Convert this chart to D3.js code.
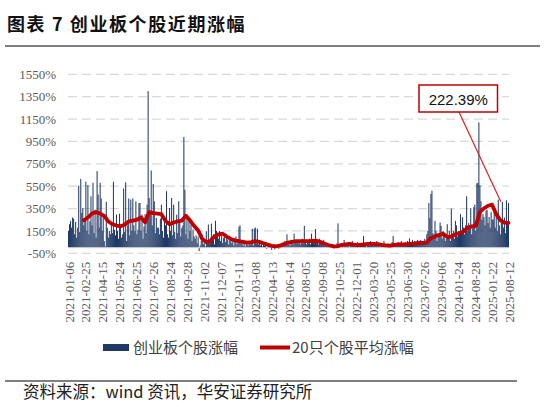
<!DOCTYPE html>
<html><head><meta charset="utf-8">
<script src="https://cdn.jsdelivr.net/npm/d3@7/dist/d3.min.js"></script>
<style>body{margin:0;background:#fff;} svg{display:block}</style>
</head><body>
<svg id="c" width="545" height="407"></svg>
<script>
// ---- data ----
const tickLabels = ["2021-01-06","2021-02-25","2021-04-15","2021-05-24","2021-06-25","2021-07-26","2021-08-24","2021-09-28","2021-11-02","2021-12-07","2022-01-11","2022-03-08","2022-04-13","2022-06-14","2022-08-05","2022-09-08","2022-10-25","2022-12-01","2023-03-20","2023-05-25","2023-06-30","2023-07-26","2023-09-06","2024-01-24","2024-08-28","2025-01-22","2025-08-12"];

const yTicks = [-50,150,350,550,750,950,1150,1350,1550];

// individual stock gains (%)
const barValues = [
150,210,240,180,270,260,120,230,90,180,555,140,615,310,355,200,
260,590,150,560,120,236,460,200,580,130,340,90,685,475,180,580,
440,150,296,60,10,410,178,90,150,120,200,130,590,160,110,296,
150,80,303,178,90,120,530,140,585,60,200,440,110,430,150,440,
200,150,415,120,160,400,399,150,296,80,190,300,130,385,1400,444,
300,690,200,570,415,130,266,180,178,120,260,385,150,90,240,200,
505,120,90,355,150,444,110,385,140,80,296,130,415,237,100,178,
200,990,518,120,296,80,266,150,207,60,163,100,80,110,40,100,
-30,20,60,118,30,80,10,148,50,207,40,90,215,60,120,30,
240,150,120,80,150,60,110,40,90,130,50,100,70,30,90,60,
40,80,20,60,100,30,70,188,200,40,60,20,50,10,40,30,
20,50,30,60,170,20,170,180,40,170,30,60,20,40,10,50,
20,40,-10,10,30,0,20,-20,10,30,-15,10,20,5,-10,15,
30,10,40,20,60,30,120,40,50,20,70,40,30,125,50,60,
40,70,50,30,60,80,40,195,50,30,60,40,80,30,125,50,
60,40,167,50,70,30,80,50,60,40,70,20,50,40,30,20,
10,20,0,30,-10,10,20,40,218,30,10,20,40,10,70,30,
40,20,30,10,50,20,60,30,10,40,20,50,30,10,40,20,
30,104,20,40,10,50,35,20,60,30,40,20,50,30,60,40,
20,30,10,40,20,60,10,30,20,40,10,30,20,50,105,20,
30,40,20,50,30,40,60,20,40,30,50,40,60,30,83,40,
50,70,40,60,30,50,70,40,60,70,50,40,60,80,50,120,
150,400,265,480,510,130,90,240,150,60,120,100,225,195,80,150,
120,60,80,210,100,150,60,350,120,150,80,240,200,100,150,120,
300,150,273,180,120,200,460,150,220,180,355,120,200,363,385,150,
575,580,1120,560,416,250,300,273,200,330,340,220,275,180,318,250,
254,313,180,330,150,430,200,120,250,410,180,270,130,423,216,400
];

// 20-stock average gain (%), read every 4th stock
const avgStep = 4;
const avgValues = [null,null,null,245,270,305,318,305,285,235,210,198,192,
205,235,243,250,270,228,318,309,305,300,
240,210,225,235,243,285,245,195,155,78,
50,60,100,120,125,100,78,66,58,52,
45,50,58,52,40,28,16,12,18,32,
45,52,58,58,58,58,60,62,50,35,
22,14,12,24,30,34,28,22,28,32,
34,34,32,25,20,18,25,30,30,32,
35,38,42,44,48,85,103,115,124,95,
100,120,132,145,180,190,195,320,352,375,
385,300,245,225,222];

const annotationText = "222.39%";
const legendLabels = ["创业板个股涨幅","20只个股平均涨幅"];

// ---- drawing ----
const W = 545, H = 407;
const barColor = "#1f3864", redColor = "#c00000";
const svg = d3.select("#c");
svg.append("rect").attr("width", W).attr("height", H).attr("fill", "#fff");

const plot = {left: 68, right: 509, top: 74.3, bottom: 253.3};
const x = d3.scaleBand().domain(d3.range(barValues.length)).range([plot.left, plot.right]).padding(0);
const y = d3.scaleLinear().domain([-50, 1550]).range([plot.bottom, plot.top]);
const bw = x.bandwidth();

// title
svg.append("text").attr("x", 7).attr("y", 31)
  .style("font-family", "'Noto Sans CJK SC', sans-serif").style("font-weight", "bold")
  .style("font-size", "18px").style("letter-spacing", "1.6px").attr("fill", "#111")
  .text("图表 7 创业板个股近期涨幅");
svg.append("line").attr("x1", 5).attr("x2", 540).attr("y1", 46).attr("y2", 46)
  .attr("stroke", "#7f7f7f").attr("stroke-width", 2);

// gridlines
svg.append("g").selectAll("line").data(yTicks).join("line")
  .attr("x1", plot.left).attr("x2", plot.right)
  .attr("y1", d => y(d)).attr("y2", d => y(d))
  .attr("stroke", "#d9d9d9").attr("stroke-width", 1.2).attr("stroke-dasharray", "9,5");

// y axis labels
const yAxis = svg.append("g").attr("transform", `translate(${plot.left - 12},0)`)
  .call(d3.axisLeft(y).tickValues(yTicks).tickFormat(d => d + "%").tickSize(0).tickPadding(0));
yAxis.select(".domain").remove();
yAxis.selectAll("text").style("font-family", "'Liberation Serif', serif").style("font-size", "13px")
  .attr("fill", "#595959");

// bars
svg.append("g").selectAll("rect").data(barValues).join("rect")
  .attr("x", (d, i) => x(i))
  .attr("width", bw)
  .attr("y", d => y(Math.max(0, d)))
  .attr("height", d => Math.abs(y(d) - y(0)))
  .attr("fill", barColor);

// zero axis line
svg.append("line").attr("x1", plot.left).attr("x2", plot.right)
  .attr("y1", y(0)).attr("y2", y(0)).attr("stroke", "#d9d9d9").attr("stroke-width", 1);

// average line
const line = d3.line()
  .defined(d => d != null)
  .x((d, j) => x(j * avgStep + 3) + bw / 2)
  .y(d => y(d));
svg.append("path").datum(avgValues).attr("d", line)
  .attr("fill", "none").attr("stroke", redColor).attr("stroke-width", 3.8)
  .attr("stroke-linejoin", "round").attr("stroke-linecap", "round");

// x axis labels
const tickScale = d3.scalePoint().domain(tickLabels).range([plot.left + bw / 2, plot.right - bw / 2]);
const xAxis = svg.append("g").attr("transform", `translate(0,${plot.bottom})`)
  .call(d3.axisBottom(tickScale).tickSize(0));
xAxis.select(".domain").remove();
xAxis.selectAll("text")
  .attr("transform", "rotate(-90)")
  .attr("x", -8.5).attr("y", 0).attr("dy", "0.35em")
  .style("text-anchor", "end")
  .style("font-family", "'Liberation Serif', serif").style("font-size", "13px")
  .attr("fill", "#595959");

// annotation
const lastIdx = barValues.length - 1;
const target = [x(lastIdx - 7), y(410)];
const box = {x: 419, y: 85, w: 78.5, h: 27};
svg.append("line").attr("x1", box.x + 40).attr("y1", box.y + box.h)
  .attr("x2", target[0]).attr("y2", target[1])
  .attr("stroke", "#e02020").attr("stroke-width", 1.2);
svg.append("rect").attr("x", box.x).attr("y", box.y).attr("width", box.w).attr("height", box.h)
  .attr("fill", "#fff").attr("stroke", redColor).attr("stroke-width", 1.5);
svg.append("text").attr("x", box.x + box.w / 2).attr("y", box.y + 19.5)
  .attr("text-anchor", "middle")
  .style("font-family", "'Liberation Sans', Arial, sans-serif").style("font-size", "15px")
  .attr("fill", "#111").text(annotationText);

// legend
const lg = svg.append("g");
lg.append("rect").attr("x", 103).attr("y", 344).attr("width", 26).attr("height", 7).attr("fill", barColor);
lg.append("text").attr("x", 133).attr("y", 353)
  .style("font-family", "'Noto Sans CJK SC', sans-serif").style("font-size", "15px")
  .attr("fill", "#404040").text(legendLabels[0]);
lg.append("line").attr("x1", 260).attr("x2", 290).attr("y1", 347.5).attr("y2", 347.5)
  .attr("stroke", redColor).attr("stroke-width", 4);
lg.append("text").attr("x", 292).attr("y", 353)
  .style("font-family", "'Noto Sans CJK SC', sans-serif").style("font-size", "15px")
  .attr("fill", "#404040").text(legendLabels[1]);

// source
svg.append("line").attr("x1", 5).attr("x2", 517).attr("y1", 381).attr("y2", 381)
  .attr("stroke", "#7f7f7f").attr("stroke-width", 2);
svg.append("text").attr("x", 23).attr("y", 398)
  .style("font-family", "'Noto Sans CJK SC', sans-serif").style("font-size", "16.5px")
  .attr("fill", "#222").text("资料来源：wind 资讯，华安证券研究所");
</script>
</body></html>
